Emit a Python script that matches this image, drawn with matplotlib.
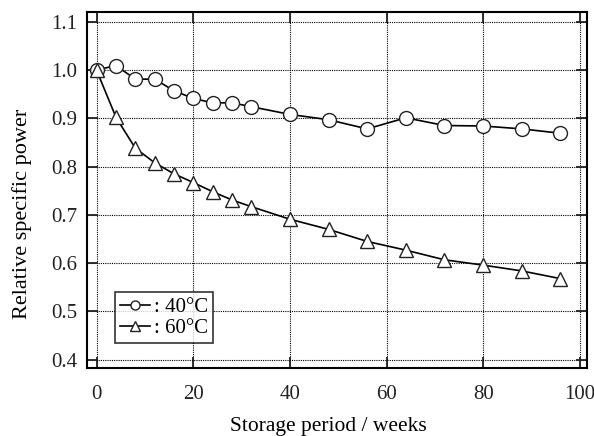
import matplotlib
matplotlib.use("Agg")
import matplotlib.pyplot as plt

weeks = [0, 4, 8, 12, 16, 20, 24, 28, 32, 40, 48, 56, 64, 72, 80, 88, 96]
power_40 = [1.000, 1.009, 0.981, 0.981, 0.957, 0.941, 0.932, 0.932, 0.924, 0.908,
            0.897, 0.878, 0.901, 0.885, 0.884, 0.878, 0.869]
power_60 = [0.999, 0.902, 0.838, 0.808, 0.785, 0.767, 0.748, 0.731, 0.717, 0.691,
            0.670, 0.645, 0.627, 0.607, 0.596, 0.584, 0.568]
labels = [": 40\u00b0C", ": 60\u00b0C"]

plt.rcParams['font.family'] = ['Liberation Serif', 'DejaVu Serif']

fig = plt.figure(figsize=(5.94, 4.36), dpi=100)
ax = fig.add_axes([87/594, 1-368/436, (587-87)/594, (368-12)/436])

ax.plot(weeks, power_40, '-', color='black', lw=1.2, marker='o', ms=10,
        mfc='white', mec='#222222', mew=1.0, label=labels[0], zorder=3)
ax.plot(weeks, power_60, '-', color='black', lw=1.2, marker='^', ms=10.5,
        mfc='white', mec='#222222', mew=1.0, label=labels[1], zorder=3)

ax.set_xlim(-2, 101.5)
ax.set_ylim(0.383, 1.12)
ax.set_xticks([0, 20, 40, 60, 80, 100])
ax.set_yticks([0.4, 0.5, 0.6, 0.7, 0.8, 0.9, 1.0, 1.1])
ax.set_yticklabels(['0.4', '0.5', '0.6', '0.7', '0.8', '0.9', '1.0', '1.1'])
ax.grid(True, color='black', linestyle=(0, (1, 1)), linewidth=0.8)
ax.set_axisbelow(True)
ax.tick_params(direction='in', length=8, width=1.3, top=True, right=True,
               labelsize=15, pad=7, colors='#222222')
ax.tick_params(axis='x', pad=12)
for s in ax.spines.values():
    s.set_linewidth(1.5)

ax.set_xlabel('Storage period / weeks', fontsize=15.5)
ax.set_ylabel('Relative specific power', fontsize=16)
ax.xaxis.set_label_coords(0.483, -0.138)
ax.yaxis.set_label_coords(-0.11, 0.433)

leg = ax.legend(loc='lower left', bbox_to_anchor=(0.056, 0.07), fontsize=15,
                frameon=True, fancybox=False, edgecolor='black',
                handlelength=1.45, handletextpad=0.15, borderpad=0.25,
                labelspacing=0.05, markerscale=0.65, borderaxespad=0)
leg.get_frame().set_linewidth(1.2)

fig.savefig('out.png', dpi=100)
